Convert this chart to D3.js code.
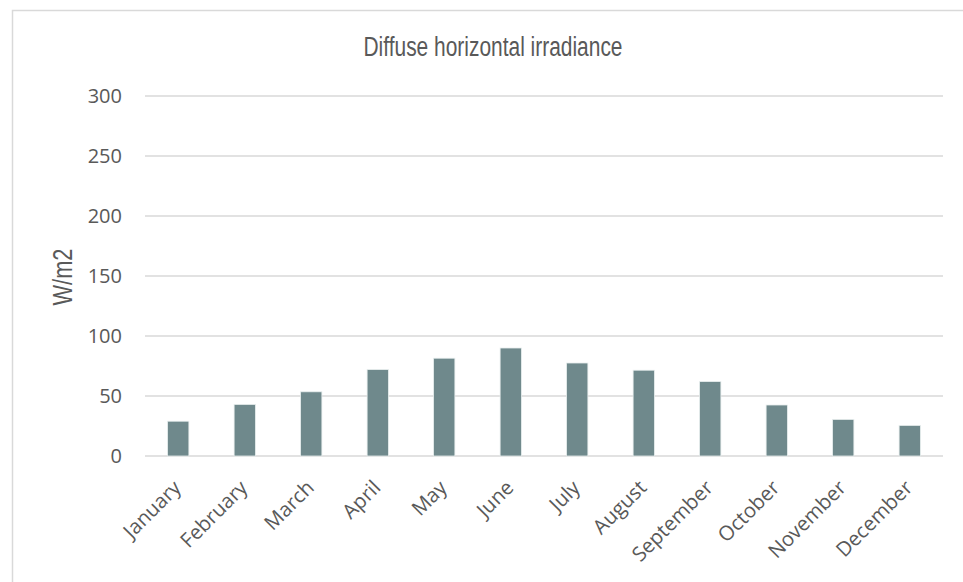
<!DOCTYPE html>
<html>
<head>
<meta charset="utf-8">
<script src="https://cdn.jsdelivr.net/npm/d3@7"></script>
<style>
  html, body { margin: 0; padding: 0; background: #fff; }
  svg { display: block; }
</style>
</head>
<body>
<svg id="chart" width="963" height="582"></svg>
<script>
// Monthly diffuse horizontal irradiance (W/m2)
const months = ["January", "February", "March", "April", "May", "June",
                "July", "August", "September", "October", "November", "December"];
const irradiance = [29, 43, 53.5, 72, 81.5, 90, 77.5, 71.5, 62, 42.5, 30.5, 25.5];
const yTicks = [0, 50, 100, 150, 200, 250, 300];
const titleText = "Diffuse horizontal irradiance";
const yAxisTitle = "W/m2";

const svg = d3.select("#chart");
const W = 963, H = 582;
const margin = { left: 145, right: 20, top: 96, bottom: 126 };
const plotW = W - margin.left - margin.right;   // 798
const plotH = H - margin.top - margin.bottom;   // 360

// condensed heading face: Liberation Sans squeezed to a fixed run length
const heading = "'Liberation Sans', Arial, sans-serif";
const body = "'Open Sans', 'Noto Sans', sans-serif";
const textColor = "#595959";

// chart frame
svg.append("rect")
  .attr("x", 12.5).attr("y", 10.5)
  .attr("width", W + 10).attr("height", H + 10)
  .attr("fill", "#fff").attr("stroke", "#d9d9d9").attr("stroke-width", 1.5);

const x = d3.scaleBand().domain(months).range([0, plotW]).paddingInner(0.68).paddingOuter(0.34);
const y = d3.scaleLinear().domain([0, 300]).range([plotH, 0]);

const g = svg.append("g").attr("transform", `translate(${margin.left},${margin.top})`);

// horizontal gridlines
g.append("g").selectAll("line").data(yTicks).join("line")
  .attr("x1", 0).attr("x2", plotW)
  .attr("y1", d => y(d)).attr("y2", d => y(d))
  .attr("stroke", "#d9d9d9").attr("stroke-width", 1.5);

// y tick labels
const yAxis = d3.axisLeft(y).tickValues(yTicks).tickSize(0).tickPadding(23);
const ya = g.append("g").call(yAxis);
ya.select(".domain").remove();
ya.selectAll("text")
  .attr("font-family", body).attr("font-size", 20).attr("fill", textColor);

// bars
g.append("g").selectAll("rect").data(irradiance).join("rect")
  .attr("x", (d, i) => x(months[i]))
  .attr("y", d => y(d))
  .attr("width", x.bandwidth())
  .attr("height", d => plotH - y(d))
  .attr("fill", "#6f898c")
  .attr("stroke", "#e8eeee").attr("stroke-width", 0.8);

// x axis labels, rotated
const xAxis = d3.axisBottom(x).tickSize(0).tickPadding(0);
const xa = g.append("g").attr("transform", `translate(0,${plotH})`).call(xAxis);
xa.select(".domain").remove();
xa.selectAll("text")
  .attr("font-family", body).attr("font-size", 20.3).attr("fill", textColor)
  .attr("text-anchor", "end")
  .attr("dy", 0)
  .attr("transform", "translate(4,33) rotate(-45)");

// chart title
svg.append("text")
  .attr("x", 493).attr("y", 56)
  .attr("text-anchor", "middle")
  .attr("font-family", heading).attr("font-size", 27)
  .attr("textLength", 259).attr("lengthAdjust", "spacingAndGlyphs")
  .attr("fill", textColor)
  .text(titleText);

// y axis title
svg.append("text")
  .attr("transform", `translate(72,277) rotate(-90)`)
  .attr("text-anchor", "middle")
  .attr("font-family", heading).attr("font-size", 27)
  .attr("textLength", 57).attr("lengthAdjust", "spacingAndGlyphs")
  .attr("fill", textColor)
  .text(yAxisTitle);
</script>
</body>
</html>
